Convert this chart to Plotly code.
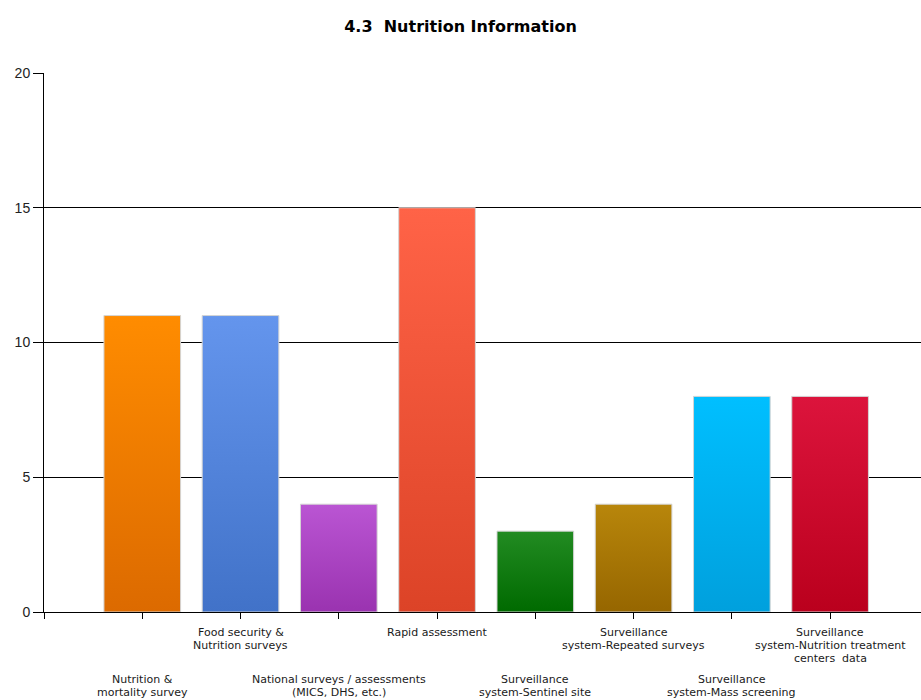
import plotly.graph_objects as go

# Nutrition information sources and their counts
categories = [
    "Nutrition &<br>mortality survey",
    "Food security &<br>Nutrition surveys",
    "National surveys / assessments<br>(MICS, DHS, etc.)",
    "Rapid assessment",
    "Surveillance<br>system-Sentinel site",
    "Surveillance<br>system-Repeated surveys",
    "Surveillance<br>system-Mass screening",
    "Surveillance<br>system-Nutrition treatment<br>centers  data",
]
values = [11, 11, 4, 15, 3, 4, 8, 8]
top_colors = ["#FF8C00", "#6495ED", "#BA55D3", "#FF6347",
              "#228B22", "#B8860B", "#00BFFF", "#DC143C"]
bottom_colors = ["#DC6A00", "#4172C8", "#9A33B0", "#DC4327",
                 "#006A00", "#966600", "#00A0DD", "#BA001D"]
y_ticks = [0, 5, 10, 15, 20]

BAR_W = 0.78
LABEL_FONT = dict(family="DejaVu Sans, Verdana, sans-serif", size=11, color="#1a1a1a")
fig = go.Figure()

for i, (v, ct, cb) in enumerate(zip(values, top_colors, bottom_colors)):
    x0, x1 = i - BAR_W / 2, i + BAR_W / 2
    fig.add_trace(go.Scatter(
        x=[x0, x1, x1, x0, x0],
        y=[0, 0, v, v, 0],
        mode="lines",
        fill="toself",
        fillgradient=dict(type="vertical", colorscale=[[0, cb], [1, ct]]),
        line=dict(color="#D4D4D4", width=1),
        hoverinfo="skip",
        showlegend=False,
    ))

# staggered category labels: odd ones on the upper row, even ones below,
# one annotation per text line for tight line spacing
for i, label in enumerate(categories):
    first = 20 if i % 2 == 1 else 67
    for k, line in enumerate(label.split("<br>")):
        fig.add_annotation(
            x=i, xref="x", y=0, yref="paper",
            yanchor="middle", xanchor="center",
            yshift=-(first + 13 * k),
            text=line, showarrow=False, align="center",
            font=LABEL_FONT,
        )

fig.update_layout(
    width=921, height=700,
    margin=dict(l=44, r=0, t=73, b=88),
    paper_bgcolor="white", plot_bgcolor="white",
    title=dict(text="<b>4.3  Nutrition Information</b>", x=0.5, xanchor="center",
               y=0.963, yanchor="middle",
               font=dict(family="DejaVu Sans, Verdana, sans-serif", size=16, color="black")),
    xaxis=dict(range=[-1, 7.925], tickvals=list(range(-1, 8)), ticktext=[""] * 9,
               ticks="outside", ticklen=6, tickcolor="black", tickwidth=1,
               showline=True, linecolor="black", linewidth=1,
               showgrid=False, zeroline=False, fixedrange=True),
    yaxis=dict(range=[0, 20], tickvals=y_ticks,
               ticks="outside", ticklen=10, tickcolor="black", tickwidth=1,
               showline=True, linecolor="black", linewidth=1,
               showgrid=True, gridcolor="black", gridwidth=1,
               zeroline=False,
               tickfont=dict(family="Liberation Sans, Arial, sans-serif", size=14, color="#222")),
)

fig.write_html("out.html")
